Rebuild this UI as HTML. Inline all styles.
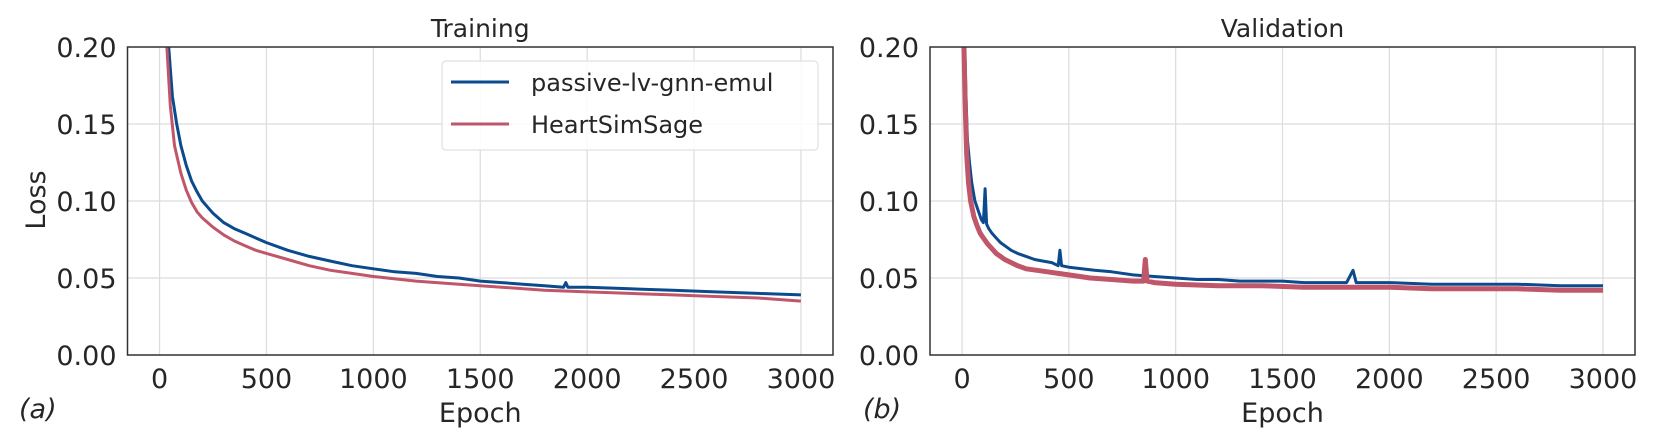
<!DOCTYPE html>
<html><head><meta charset="utf-8">
<style>
html,body{margin:0;padding:0;background:#fff;}
svg{display:block;font-family:"DejaVu Sans","Liberation Sans",sans-serif;}
</style></head>
<body>
<svg id="fig" width="1660" height="443" viewBox="0 0 1660 443"></svg>
<script>
const yTicks = [0, 0.05, 0.10, 0.15, 0.20];
const yTickLabels = ["0.00","0.05","0.10","0.15","0.20"];
const xTicks = [0, 500, 1000, 1500, 2000, 2500, 3000];
const xTickLabels = ["0","500","1000","1500","2000","2500","3000"];
const seriesNames = ["passive-lv-gnn-emul","HeartSimSage"];

const trainBlueEpoch = [40,60,80,100,125,150,175,200,250,300,350,400,450,500,600,700,800,900,1000,1100,1200,1300,1400,1500,1600,1700,1800,1890,1900,1910,2000,2200,2400,2600,2800,3000];
const trainBlueLoss  = [0.205,0.168,0.150,0.136,0.123,0.113,0.106,0.100,0.092,0.086,0.082,0.079,0.076,0.073,0.068,0.064,0.061,0.058,0.056,0.054,0.053,0.051,0.050,0.048,0.047,0.046,0.045,0.044,0.047,0.044,0.044,0.043,0.042,0.041,0.040,0.039];
const trainRedEpoch  = [32,50,70,100,125,150,175,200,250,300,350,400,450,500,600,700,800,900,1000,1200,1400,1600,1800,2000,2200,2400,2600,2800,3000];
const trainRedLoss   = [0.205,0.162,0.136,0.118,0.107,0.099,0.093,0.089,0.083,0.078,0.074,0.071,0.068,0.066,0.062,0.058,0.055,0.053,0.051,0.048,0.046,0.044,0.042,0.041,0.040,0.039,0.038,0.037,0.035];

const valBlueEpoch = [12,18,25,35,45,60,75,90,100,108,115,125,140,160,180,200,230,260,300,340,380,420,450,458,466,500,560,620,700,800,900,1000,1100,1200,1300,1400,1500,1600,1700,1800,1830,1845,1900,2000,2200,2400,2600,2800,3000];
const valBlueLoss  = [0.205,0.170,0.140,0.125,0.112,0.100,0.094,0.088,0.086,0.108,0.085,0.082,0.079,0.076,0.073,0.071,0.068,0.066,0.064,0.062,0.061,0.060,0.058,0.068,0.058,0.057,0.056,0.055,0.054,0.052,0.051,0.050,0.049,0.049,0.048,0.048,0.048,0.047,0.047,0.047,0.055,0.047,0.047,0.047,0.046,0.046,0.046,0.045,0.045];
const valRedEpoch  = [8,15,22,30,40,55,70,85,100,120,140,160,180,200,230,260,300,350,400,450,500,600,700,800,850,858,866,900,1000,1200,1400,1600,1800,2000,2200,2400,2600,2800,3000];
const valRedLoss   = [0.205,0.160,0.130,0.112,0.100,0.090,0.084,0.079,0.076,0.072,0.069,0.066,0.064,0.062,0.060,0.058,0.056,0.055,0.054,0.053,0.052,0.050,0.049,0.048,0.048,0.062,0.048,0.047,0.046,0.045,0.045,0.044,0.044,0.044,0.043,0.043,0.043,0.042,0.042];

const NS = "http://www.w3.org/2000/svg";
const svg = document.getElementById('fig');
function mk(tag, attrs, parent){const e=document.createElementNS(NS,tag);for(const k in attrs)e.setAttribute(k,attrs[k]);(parent||svg).appendChild(e);return e;}

const BLUE="#0b4a8c", RED="#c0566a";
const axTop=47, axBottom=355;
function yScale(v){return axBottom-(v/0.2)*(axBottom-axTop);}

function panel(cfg){
  const g=mk('g',{});
  
  
  const xs=v=>cfg.x0+(v-(-150))/(3300)*(cfg.x1-cfg.x0);
  const clipId='clip-'+cfg.name;
  const cp=mk('clipPath',{id:clipId},g); mk('rect',{x:cfg.x0,y:axTop,width:cfg.x1-cfg.x0,height:axBottom-axTop},cp);
  xTicks.forEach((t,i)=>{
    const l=mk('line',{x1:xs(t),x2:xs(t),y1:axTop,y2:axBottom,stroke:"#dcdcdc","stroke-width":1.2},g);
    
    
    const tx=mk('text',{x:xs(t),y:388,"text-anchor":"middle","font-size":27,fill:"#262626"},g);
    tx.textContent=xTickLabels[i];
    
    
  });
  yTicks.forEach((t,i)=>{
    const l=mk('line',{x1:cfg.x0,x2:cfg.x1,y1:yScale(t),y2:yScale(t),stroke:"#dcdcdc","stroke-width":1.2},g);
    
    
    const tx=mk('text',{x:cfg.x0-11,y:yScale(t)+10,"text-anchor":"end","font-size":27,fill:"#262626"},g);
    tx.textContent=yTickLabels[i];
    
    
  });
  cfg.series.forEach(s=>{
    const pts=s.ex.map((e,i)=>xs(e).toFixed(1)+","+yScale(s.ly[i]).toFixed(1)).join(" ");
    const p=mk('polyline',{points:pts,fill:"none",stroke:s.color,"stroke-width":s.w,"stroke-linejoin":"round","clip-path":"url(#"+clipId+")"},g);
    
    
  });
  const r=mk('rect',{x:cfg.x0,y:axTop,width:cfg.x1-cfg.x0,height:axBottom-axTop,fill:"none",stroke:"#333","stroke-width":1.5},g);
  
  
  const ti=mk('text',{x:(cfg.x0+cfg.x1)/2,y:37,"text-anchor":"middle","font-size":25,fill:"#262626"},g);
  ti.textContent=cfg.title;
  
  
  const xl=mk('text',{x:(cfg.x0+cfg.x1)/2,y:422,"text-anchor":"middle","font-size":27,fill:"#262626"},g);
  xl.textContent="Epoch";
  
  
  const lab=mk('text',{x:cfg.labX,y:418,"font-size":27,"font-style":"italic",fill:"#262626"},g);
  lab.textContent=cfg.label;
  
  
}

panel({name:"training-panel",title:"Training",label:"(a)",labX:19,x0:127.5,x1:833,
  series:[{name:"training-passive-lv-gnn-emul-line",ex:trainBlueEpoch,ly:trainBlueLoss,color:BLUE,w:3},
          {name:"training-heartsimsage-line",ex:trainRedEpoch,ly:trainRedLoss,color:RED,w:3}]});
panel({name:"validation-panel",title:"Validation",label:"(b)",labX:863,x0:930,x1:1635,
  series:[{name:"validation-passive-lv-gnn-emul-line",ex:valBlueEpoch,ly:valBlueLoss,color:BLUE,w:3},
          {name:"validation-heartsimsage-line",ex:valRedEpoch,ly:valRedLoss,color:RED,w:5}]});

const yl=mk('text',{x:0,y:0,"text-anchor":"middle","font-size":27,fill:"#262626",transform:"translate(45,200) rotate(-90)"});
yl.textContent="Loss";



const lg=mk('g',{});


mk('rect',{x:442,y:61,width:376,height:89,rx:4,fill:"rgba(255,255,255,0.85)",stroke:"#e0e0e0","stroke-width":1.2},lg);
[BLUE,RED].forEach((c,i)=>{
  const y=82+i*42;
  const ln=mk('line',{x1:451,x2:509,y1:y,y2:y,stroke:c,"stroke-width":3},lg);
  
  
  const t=mk('text',{x:531,y:y+9,"font-size":24,fill:"#262626"},lg);
  t.textContent=seriesNames[i];
  
  
});
</script>
</body></html>
